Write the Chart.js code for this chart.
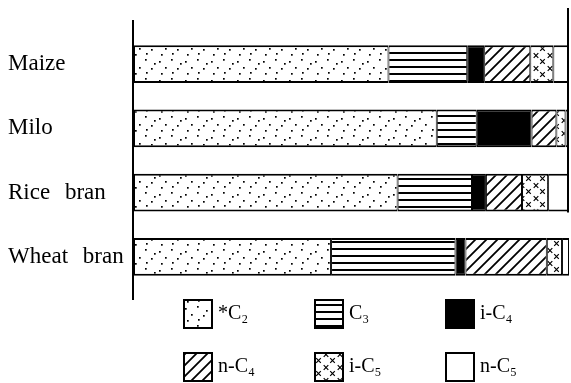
<!DOCTYPE html>
<html><head><meta charset="utf-8">
<script src="https://cdn.jsdelivr.net/npm/chart.js@4.4.1/dist/chart.umd.min.js"></script>
<style>html,body{margin:0;padding:0;background:#fff;} #wrap{width:571px;height:383px;position:relative;}</style>
</head><body><div id="wrap"><canvas id="c"></canvas></div>
<script>
const categories = ['Maize', 'Milo', 'Rice bran', 'Wheat bran'];
const seriesLabels = ['*C₂', 'C₃', 'i-C₄', 'n-C₄', 'i-C₅', 'n-C₅'];
const c2Values  = [58.5, 69.6, 60.6, 45.3];
const c3Values  = [18.1,  9.2, 17.1, 28.6];
const iC4Values = [ 3.9, 12.6,  3.2,  2.3];
const nC4Values = [10.6,  5.7,  8.3, 18.7];
const iC5Values = [ 5.3,  2.1,  6.0,  3.5];
const nC5Values = [ 3.6,  0.8,  4.8,  1.6];

const canvas = document.getElementById('c');
const mainCtx = canvas.getContext('2d');

function makePattern(kind) {
  const t = document.createElement('canvas');
  const g = t.getContext('2d');
  if (kind === 'dots') {
    t.width = 26; t.height = 19;
    g.fillStyle = '#fff'; g.fillRect(0, 0, 26, 19);
    g.fillStyle = '#000';
    [[3,4],[15,2],[9,10],[21,11],[5,16],[16,15],[24,6]].forEach(p => g.fillRect(p[0], p[1], 1.7, 1.7));
  } else if (kind === 'hlines') {
    t.width = 8; t.height = 7;
    g.fillStyle = '#fff'; g.fillRect(0, 0, 8, 7);
    g.fillStyle = '#000'; g.fillRect(0, 3, 8, 2);
  } else if (kind === 'diag') {
    t.width = 11; t.height = 11;
    g.fillStyle = '#fff'; g.fillRect(0, 0, 11, 11);
    g.strokeStyle = '#000'; g.lineWidth = 1.8;
    g.beginPath();
    g.moveTo(-1, 12); g.lineTo(12, -1);
    g.moveTo(-2, 2); g.lineTo(2, -2);
    g.moveTo(9, 13); g.lineTo(13, 9);
    g.stroke();
  } else if (kind === 'cross') {
    t.width = 14; t.height = 13;
    g.fillStyle = '#fff'; g.fillRect(0, 0, 14, 13);
    g.strokeStyle = '#000'; g.lineWidth = 1.2;
    [[4,3.5],[10.5,9.5]].forEach(p => {
      g.beginPath();
      g.moveTo(p[0]-2.3, p[1]-2.3); g.lineTo(p[0]+2.3, p[1]+2.3);
      g.moveTo(p[0]+2.3, p[1]-2.3); g.lineTo(p[0]-2.3, p[1]+2.3);
      g.stroke();
    });
  } else if (kind === 'black') {
    return '#000';
  } else {
    return '#fff';
  }
  return mainCtx.createPattern(t, 'repeat');
}

const fills = ['dots', 'hlines', 'black', 'diag', 'cross', 'white'].map(makePattern);
const seriesValues = [c2Values, c3Values, iC4Values, nC4Values, iC5Values, nC5Values];

const datasets = seriesValues.map((vals, i) => ({
  label: seriesLabels[i],
  data: vals,
  backgroundColor: fills[i],
  borderColor: '#000',
  borderWidth: {top: 2, bottom: 2, left: 1, right: 1},
  borderSkipped: false,
  barPercentage: 0.59,
  categoryPercentage: 1.0
}));

const labelPatch = {
  id: 'labelPatch',
  beforeDraw(chart) {
    const s = chart.scales.y;
    if (s && !s._spacedPatch) {
      const orig = s.drawLabels;
      s.drawLabels = function (area) {
        const c = this.ctx;
        c.save();
        try { c.wordSpacing = '9px'; } catch (e) {}
        orig.call(this, area);
        c.restore();
      };
      s._spacedPatch = true;
    }
  }
};

const framePlugin = {
  id: 'frame',
  afterDatasetsDraw(chart) {
    const {ctx, chartArea: a, scales: {y}} = chart;
    ctx.save();
    ctx.strokeStyle = '#000';
    ctx.lineWidth = 2;
    ctx.beginPath();
    ctx.moveTo(a.left - 1, a.top - 12);
    ctx.lineTo(a.left - 1, a.bottom + 11);
    ctx.stroke();
    const step = y.getPixelForValue(1) - y.getPixelForValue(0);
    const rb = y.getPixelForValue(2) + step * 0.31;
    ctx.beginPath();
    ctx.moveTo(a.right - 1, a.top - 24);
    ctx.lineTo(a.right - 1, rb);
    ctx.stroke();
    ctx.restore();
  }
};

const gridLegend = {
  id: 'gridLegend',
  afterDraw(chart) {
    const ctx = chart.ctx;
    ctx.save();
    chart.data.datasets.forEach((d, i) => {
      const col = i % 3, row = Math.floor(i / 3);
      const x = 183 + col * 131, yy = 299 + row * 53;
      ctx.fillStyle = d.backgroundColor;
      ctx.fillRect(x, yy, 30, 30);
      ctx.lineWidth = 2;
      ctx.strokeStyle = '#000';
      ctx.strokeRect(x + 1, yy + 1, 28, 28);
      ctx.fillStyle = '#000';
      ctx.font = '20px "Liberation Serif", "DejaVu Serif", serif';
      ctx.textBaseline = 'middle';
      ctx.textAlign = 'left';
      ctx.fillText(d.label, x + 35, yy + 15);
    });
    ctx.restore();
  }
};

new Chart(canvas, {
  type: 'bar',
  data: { labels: categories, datasets: datasets },
  options: {
    indexAxis: 'y',
    responsive: true,
    maintainAspectRatio: false,
    animation: false,
    layout: { padding: { top: 32, left: 8, right: 2, bottom: 94 } },
    plugins: { legend: { display: false }, tooltip: { enabled: false } },
    scales: {
      x: { stacked: true, min: 0, max: 100, display: false },
      y: {
        stacked: true,
        grid: { display: false, drawTicks: false },
        border: { display: false },
        ticks: {
          crossAlign: 'far',
          color: '#000',
          padding: 0,
          font: { family: '"Liberation Serif", "DejaVu Serif", serif', size: 23 }
        },
        afterFit(scale) { scale.width = 126; }
      }
    }
  },
  plugins: [labelPatch, framePlugin, gridLegend]
});
</script>
</body></html>
